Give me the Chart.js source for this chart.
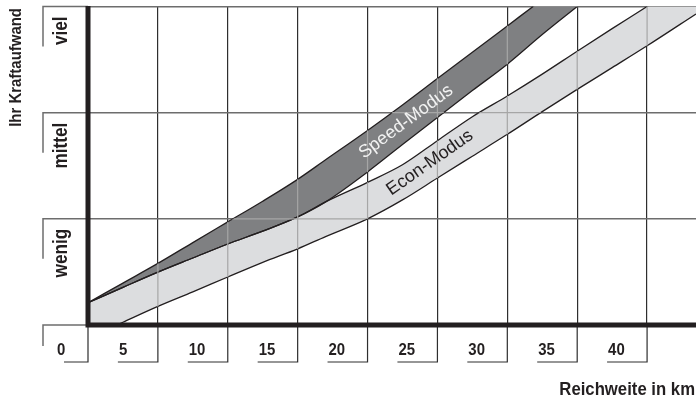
<!DOCTYPE html>
<html>
<head>
<meta charset="utf-8">
<script src="https://cdn.jsdelivr.net/npm/chart.js@4.4.0/dist/chart.umd.min.js"></script>
<style>
html, body { margin: 0; padding: 0; background: #fff; }
</style>
</head>
<body>
<canvas id="rangeChart" width="696" height="403"></canvas>
<script>
// Reichweite in km (x) und Kraftaufwand 0..3 (wenig/mittel/viel)
const reichweite = [0, 2.5, 5, 7.5, 10, 12.5, 15, 17, 20, 22.5, 25, 27.5, 30, 32.5, 35, 37.5, 40, 43.5];
const speedOben  = [0.21, 0.395, 0.58, 0.776, 0.971, 1.166, 1.372, 1.556, 1.832, 2.072, 2.321, 2.569, 2.817, 3.065, 3.31, null, null, null];
const speedUnten = [0.21, 0.355, 0.498, 0.631, 0.763, 0.884, 1.018, 1.16, 1.442, 1.70, 1.954, 2.208, 2.457, 2.736, 3.0, null, null, null];
const econOben   = [0.21, 0.355, 0.498, 0.631, 0.763, 0.884, 1.018, 1.16, 1.344, 1.509, 1.736, 1.962, 2.157, 2.363, 2.579, 2.792, 3.0, 3.3];
const econUnten  = [-0.124, 0.026, 0.175, 0.312, 0.452, 0.59, 0.717, 0.833, 1.0, 1.178, 1.384, 1.59, 1.796, 2.01, 2.219, 2.424, 2.63, 2.93];

const xTickWerte = [0, 5, 10, 15, 20, 25, 30, 35, 40];
const xTickTexte = ['0', '5', '10', '15', '20', '25', '30', '35', '40'];
const yTickWerte = [0, 1, 2, 3];
const yTickTexte = ['', 'wenig', 'mittel', 'viel'];

const FONT = "'Liberation Sans', Arial, sans-serif";
const DUNKEL = '#231f20';

function pts(arr) {
    return reichweite.map((x, i) => ({ x: x, y: arr[i] }));
}

// schmale fette Schrift (gestaucht, weil keine Condensed-Schrift da ist)
function schreib(ctx, text, x, y, size, winkel, align) {
    ctx.save();
    ctx.translate(x, y);
    if (winkel) ctx.rotate(winkel);
    ctx.scale(0.88, 1);
    ctx.font = 'bold ' + size + 'px ' + FONT;
    ctx.textAlign = align;
    ctx.textBaseline = 'alphabetic';
    ctx.fillText(text, 0, 0);
    ctx.restore();
}

// Rahmen, Beschriftungen und dicke Achsen selber zeichnen
const rahmenPlugin = {
    id: 'rahmen',
    afterDraw(chart) {
        const ctx = chart.ctx;
        const area = chart.chartArea;
        const xs = chart.scales.x;
        const ys = chart.scales.y;
        ctx.save();

        // graue Gitterlinien ueber den Baendern
        ctx.save();
        ctx.beginPath();
        [[0, 1], [2, 3]].forEach(([oben, unten]) => {
            const o = chart.getDatasetMeta(oben).data.filter(p => !p.skip);
            const u = chart.getDatasetMeta(unten).data.filter(p => !p.skip);
            ctx.moveTo(o[0].x, o[0].y);
            o.forEach(p => ctx.lineTo(p.x, p.y));
            for (let i = u.length - 1; i >= 0; i--) ctx.lineTo(u[i].x, u[i].y);
            ctx.closePath();
        });
        ctx.clip();
        ctx.beginPath();
        ctx.rect(area.left, area.top, area.right - area.left, area.bottom - area.top);
        ctx.clip();
        ctx.strokeStyle = '#a6a6a6';
        ctx.lineWidth = 1.2;
        xTickWerte.forEach(v => {
            const px = xs.getPixelForValue(v);
            ctx.beginPath(); ctx.moveTo(px, area.top); ctx.lineTo(px, area.bottom); ctx.stroke();
        });
        yTickWerte.forEach(v => {
            const py = ys.getPixelForValue(v);
            ctx.beginPath(); ctx.moveTo(area.left, py); ctx.lineTo(area.right, py); ctx.stroke();
        });
        ctx.restore();

        // x Ticks mit Haken unten
        ctx.strokeStyle = '#2e2e2e';
        ctx.lineWidth = 1.2;
        ctx.fillStyle = DUNKEL;
        xTickWerte.forEach((v, i) => {
            const px = xs.getPixelForValue(v);
            const len = v === 0 ? 24 : 40;
            ctx.beginPath();
            ctx.moveTo(px, area.bottom);
            ctx.lineTo(px, 362);
            ctx.lineTo(px - len, 362);
            ctx.stroke();
            schreib(ctx, xTickTexte[i], px - (v === 0 ? 31 : 39), 355, 17, 0, 'left');
        });

        // y Ticks mit Haken links
        ctx.strokeStyle = '#6d6d6d';
        ctx.lineWidth = 1.5;
        yTickWerte.forEach((v, i) => {
            const py = ys.getPixelForValue(v);
            const len = v === 0 ? 21 : 40;
            ctx.beginPath();
            ctx.moveTo(area.left, py);
            ctx.lineTo(43, py);
            ctx.lineTo(43, py + len);
            ctx.stroke();
            if (yTickTexte[i]) {
                schreib(ctx, yTickTexte[i], 67, py + 10, 19.5, -Math.PI / 2, 'right');
            }
        });

        // Achsentitel
        schreib(ctx, 'Ihr Kraftaufwand', 21, 8, 17, -Math.PI / 2, 'right');
        schreib(ctx, 'Reichweite in km', 695, 395, 19, 0, 'right');

        // Bandbeschriftungen
        ctx.font = "18px 'Liberation Sans', sans-serif";
        ctx.textAlign = 'center';
        ctx.textBaseline = 'middle';
        ctx.save();
        ctx.translate(xs.getPixelForValue(22.75), ys.getPixelForValue(1.914));
        ctx.rotate(-36.5 * Math.PI / 180);
        ctx.fillStyle = '#f2f2f2';
        ctx.fillText('Speed-Modus', 0, 0);
        ctx.restore();
        ctx.save();
        ctx.translate(xs.getPixelForValue(24.46), ys.getPixelForValue(1.528));
        ctx.rotate(-35 * Math.PI / 180);
        ctx.fillStyle = DUNKEL;
        ctx.fillText('Econ-Modus', 0, 0);
        ctx.restore();

        // dicke Achsen
        ctx.strokeStyle = DUNKEL;
        ctx.lineWidth = 5;
        ctx.beginPath();
        ctx.moveTo(area.left, area.top - 0.5);
        ctx.lineTo(area.left, area.bottom + 2.5);
        ctx.moveTo(area.left - 2.5, area.bottom);
        ctx.lineTo(area.right, area.bottom);
        ctx.stroke();
        ctx.restore();
    }
};

const linie = { borderColor: DUNKEL, borderWidth: 1.3, pointRadius: 0, cubicInterpolationMode: 'monotone' };

const ctx = document.getElementById('rangeChart').getContext('2d');
let rangeChart = new Chart(ctx, {
    type: 'line',
    data: {
        datasets: [
            Object.assign({ label: 'Speed-Modus', data: pts(speedOben), fill: '+1', backgroundColor: '#7f8082' }, linie),
            Object.assign({ label: 'Speed unten', data: pts(speedUnten), fill: false }, linie),
            Object.assign({ label: 'Econ-Modus', data: pts(econOben), fill: '+1', backgroundColor: '#dcdddf' }, linie),
            Object.assign({ label: 'Econ unten', data: pts(econUnten), fill: false }, linie)
        ]
    },
    options: {
        responsive: false,
        animation: false,
        layout: { padding: { top: 6.5, right: 0, left: 0, bottom: 0 } },
        plugins: {
            legend: { display: false },
            tooltip: { enabled: false },
            filler: { drawTime: 'beforeDatasetsDraw' }
        },
        scales: {
            x: {
                type: 'linear',
                min: 0,
                max: 43.5,
                ticks: { display: false, stepSize: 5, includeBounds: false },
                grid: { color: '#2e2e2e', lineWidth: 1.2, drawTicks: false },
                border: { display: false },
                afterFit: s => { s.height = 78; }
            },
            y: {
                min: 0,
                max: 3,
                ticks: { display: false, stepSize: 1 },
                grid: { color: '#6d6d6d', lineWidth: 1.5, drawTicks: false },
                border: { display: false },
                afterFit: s => { s.width = 88; }
            }
        }
    },
    plugins: [rahmenPlugin]
});
</script>
</body>
</html>
